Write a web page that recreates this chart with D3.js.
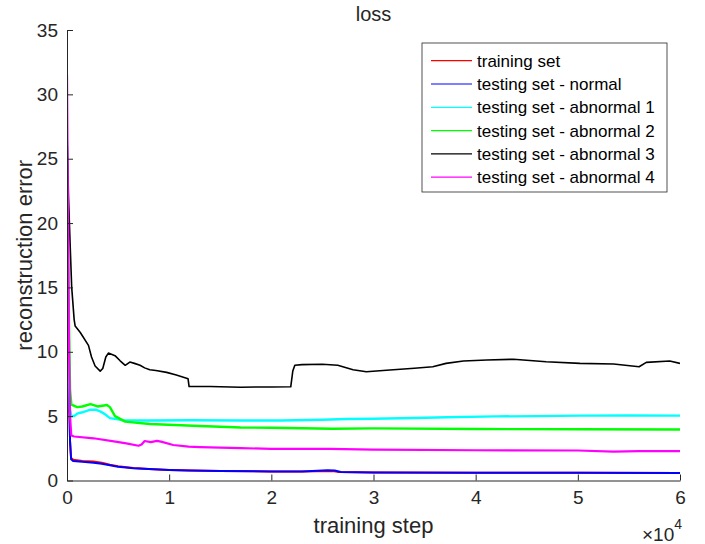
<!DOCTYPE html>
<html>
<head>
<meta charset="utf-8">
<script src="https://cdn.jsdelivr.net/npm/d3@7"></script>
<style>
  html, body { margin: 0; padding: 0; background: #ffffff; }
  svg { display: block; font-family: "Liberation Sans", Arial, Helvetica, sans-serif; }
</style>
</head>
<body>
<div id="chart"></div>
<script>
// ---------------- DATA ----------------
const seriesNames = [
  "training set",
  "testing set - normal",
  "testing set - abnormal 1",
  "testing set - abnormal 2",
  "testing set - abnormal 3",
  "testing set - abnormal 4"
];
const seriesColors = ["#ff0000", "#0000ff", "#00ffff", "#00ff00", "#000000", "#ff00ff"];

const xTicks = [0, 10000, 20000, 30000, 40000, 50000, 60000];
const xTickLabels = ["0", "1", "2", "3", "4", "5", "6"];
const yTicks = [0, 5, 10, 15, 20, 25, 30, 35];

// [training step, reconstruction error]
const trainingSet = [
  [0,24],[100,14],[200,7],[300,3],[400,1.75],[600,1.62],[1500,1.52],[2600,1.47],[3400,1.38],
  [4200,1.22],[5000,1.1],[6500,0.98],[8000,0.9],[10000,0.82],[12000,0.77],[15000,0.73],
  [20000,0.7],[23000,0.69],[24500,0.71],[26000,0.73],[26600,0.66],[30000,0.63],[40000,0.61],
  [50000,0.6],[60000,0.59]
];
const testingNormal = [
  [0,25],[100,14],[200,7],[300,3],[400,1.66],[600,1.52],[1500,1.45],[2600,1.38],[3400,1.3],
  [4200,1.18],[5000,1.07],[6500,0.96],[8000,0.89],[10000,0.82],[12000,0.77],[15000,0.73],
  [20000,0.7],[23000,0.7],[24000,0.74],[25500,0.79],[26200,0.78],[26800,0.66],[30000,0.63],
  [40000,0.61],[50000,0.6],[60000,0.59]
];
const abnormal1 = [
  [0,26.4],[100,15],[200,8],[300,5.5],[430,5.0],[700,5.0],[1000,5.2],[1500,5.3],[2300,5.5],
  [2800,5.5],[3300,5.35],[3800,5.1],[4200,4.85],[5000,4.75],[5500,4.68],[8000,4.66],
  [12000,4.68],[17000,4.66],[21000,4.66],[25000,4.72],[27400,4.78],[30000,4.8],[34000,4.85],
  [37200,4.91],[42000,4.98],[46000,5.0],[50200,5.04],[55000,5.05],[60000,5.04]
];
const abnormal2 = [
  [0,26],[100,18],[200,12],[300,7],[430,5.9],[1000,5.7],[1500,5.75],[2300,5.94],[3000,5.75],
  [3900,5.87],[4200,5.7],[4700,5.0],[5700,4.57],[8100,4.39],[13000,4.23],[17000,4.12],
  [20000,4.1],[26000,4.02],[30000,4.05],[40000,4.0],[50000,3.98],[60000,3.96]
];
const abnormal3 = [
  [0,26.8],[150,22],[300,18.5],[460,15.0],[700,12.5],[800,12.0],[1300,11.5],[2100,10.5],
  [2400,9.6],[2750,8.9],[3250,8.5],[3500,8.7],[3800,9.6],[4050,9.9],[4700,9.7],[5200,9.3],
  [5700,8.95],[6150,9.2],[6600,9.1],[7150,8.95],[7600,8.75],[8100,8.6],[8700,8.55],
  [9750,8.4],[10700,8.2],[11700,7.95],[11850,7.9],[11950,7.3],[14000,7.3],[17000,7.25],
  [20000,7.27],[21900,7.28],[22100,8.5],[22300,8.95],[23000,9.0],[25000,9.03],[26500,8.95],
  [28000,8.6],[29300,8.45],[31600,8.59],[34000,8.72],[35800,8.84],[37100,9.1],[38800,9.28],
  [41100,9.36],[43700,9.42],[46900,9.23],[50200,9.1],[53500,9.05],[56000,8.84],[56700,9.18],
  [59000,9.28],[60000,9.1]
];
const abnormal4 = [
  [0,31.5],[100,20],[200,10],[300,5],[420,3.5],[700,3.42],[2600,3.28],[4900,3.0],[5800,2.89],
  [7000,2.7],[7300,2.8],[7600,3.07],[8200,2.98],[8800,3.08],[9200,3.02],[10400,2.76],
  [11900,2.63],[13000,2.6],[17000,2.52],[20000,2.45],[25700,2.45],[30000,2.4],[40000,2.35],
  [50000,2.33],[53500,2.24],[56000,2.28],[60000,2.28]
];
const seriesData = [trainingSet, testingNormal, abnormal1, abnormal2, abnormal3, abnormal4];
const seriesWidths = [2, 2, 2.4, 2.4, 1.6, 2.2];

// ---------------- LAYOUT ----------------
const W = 705, H = 544;
const margin = { left: 67, right: 25, top: 30, bottom: 63.5 };
const textColor = "#262626";

const svg = d3.select("#chart").append("svg")
  .attr("width", W).attr("height", H)
  .attr("viewBox", `0 0 ${W} ${H}`);
svg.append("rect").attr("width", W).attr("height", H).attr("fill", "#ffffff");

const x = d3.scaleLinear().domain([0, 60000]).range([margin.left, W - margin.right]);
const y = d3.scaleLinear().domain([0, 35]).range([H - margin.bottom, margin.top]);

// clip
svg.append("clipPath").attr("id", "plotclip")
  .append("rect")
  .attr("x", margin.left).attr("y", margin.top)
  .attr("width", W - margin.left - margin.right)
  .attr("height", H - margin.top - margin.bottom);

// lines
const line = d3.line().x(d => x(d[0])).y(d => y(d[1]));
const gLines = svg.append("g").attr("clip-path", "url(#plotclip)");
seriesData.forEach((data, i) => {
  gLines.append("path")
    .datum(data)
    .attr("fill", "none")
    .attr("stroke", seriesColors[i])
    .attr("stroke-width", seriesWidths[i])
    .attr("stroke-linejoin", "round")
    .attr("d", line);
});

// axes
const xAxis = d3.axisBottom(x).tickValues(xTicks)
  .tickFormat((d, i) => xTickLabels[i])
  .tickSizeInner(-6).tickSizeOuter(0).tickPadding(10);
const yAxis = d3.axisLeft(y).tickValues(yTicks)
  .tickSizeInner(-6).tickSizeOuter(0).tickPadding(9);

const gx = svg.append("g").attr("transform", `translate(0,${y(0)})`).call(xAxis);
const gy = svg.append("g").attr("transform", `translate(${x(0)},0)`).call(yAxis);
[gx, gy].forEach(g => {
  g.select(".domain").attr("stroke", textColor).attr("stroke-width", 1);
  g.selectAll(".tick line").attr("stroke", textColor).attr("stroke-width", 1);
  g.selectAll(".tick text").attr("fill", textColor)
    .style("font-size", "19px")
    .style("font-family", "'Liberation Sans', Arial, sans-serif");
});

// title
svg.append("text")
  .attr("x", (margin.left + W - margin.right) / 2).attr("y", 21)
  .attr("text-anchor", "middle").attr("fill", textColor)
  .style("font-size", "20px").text("loss");

// x label
svg.append("text")
  .attr("x", (margin.left + W - margin.right) / 2).attr("y", 533)
  .attr("text-anchor", "middle").attr("fill", textColor)
  .style("font-size", "22px").text("training step");

// y label
svg.append("text")
  .attr("transform", `translate(32,${(margin.top + H - margin.bottom) / 2}) rotate(-90)`)
  .attr("text-anchor", "middle").attr("fill", textColor)
  .style("font-size", "22px").text("reconstruction error");

// exponent
const expo = svg.append("text")
  .attr("x", W - margin.right + 2).attr("y", 541)
  .attr("text-anchor", "end").attr("fill", textColor)
  .style("font-size", "19px");
expo.append("tspan").text("\u00d710");
expo.append("tspan").attr("dy", -12).style("font-size", "14px").text("4");

// legend
const legX = 422, legY = 43, legW = 245, legH = 149, rowH = 23.3, firstRow = 60.7;
const gLeg = svg.append("g");
gLeg.append("rect")
  .attr("x", legX).attr("y", legY).attr("width", legW).attr("height", legH)
  .attr("fill", "#ffffff").attr("stroke", textColor).attr("stroke-width", 0.8);
seriesNames.forEach((name, i) => {
  const cy = firstRow + i * rowH;
  gLeg.append("line")
    .attr("x1", 431).attr("x2", 472).attr("y1", cy).attr("y2", cy)
    .attr("stroke", seriesColors[i]).attr("stroke-width", 1.2);
  gLeg.append("text")
    .attr("x", 477).attr("y", cy).attr("dy", "0.35em")
    .attr("fill", "#000000").style("font-size", "17px").text(name);
});
</script>
</body>
</html>
